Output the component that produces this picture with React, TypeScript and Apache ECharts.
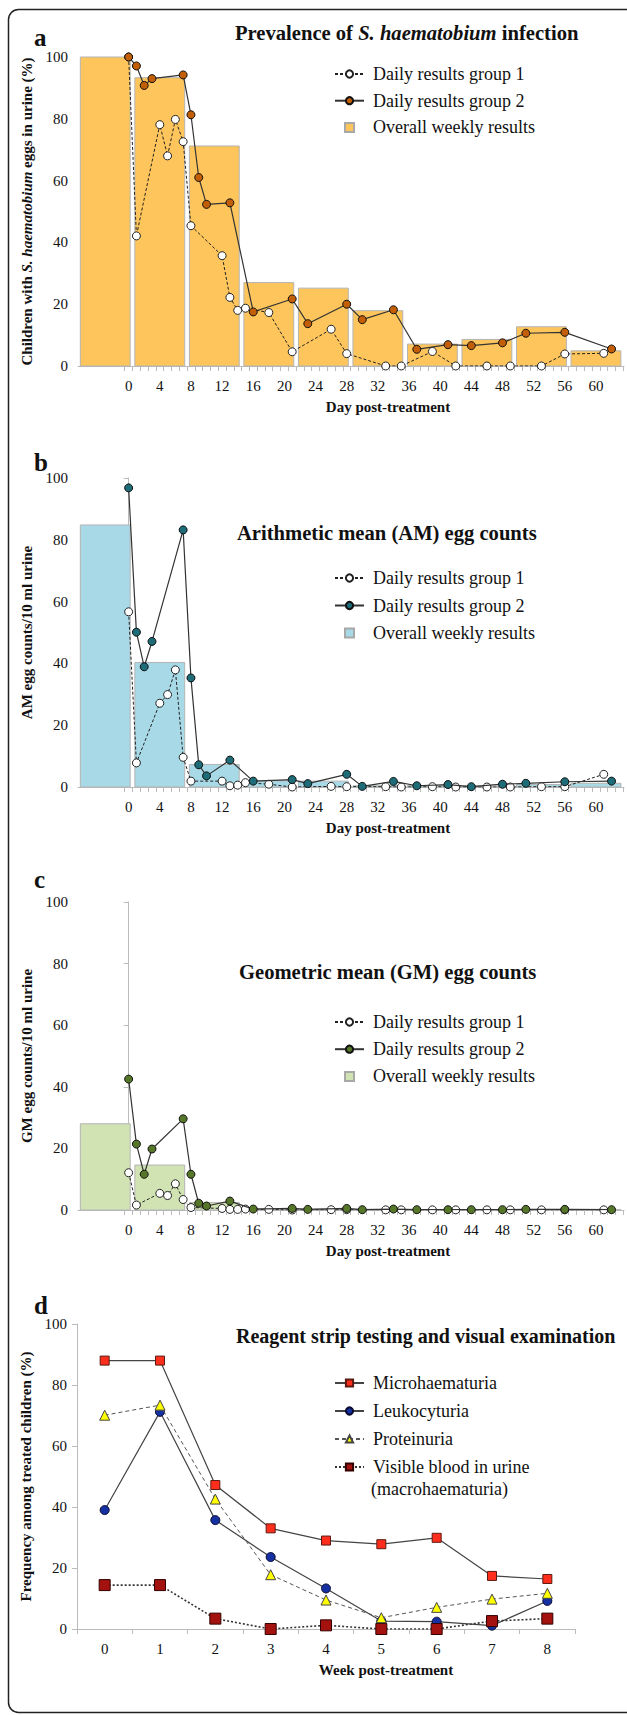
import React, { useEffect, useRef } from 'react';
import * as echarts from 'echarts';

// ---------- data ----------
const WEEK_CENTERS = [-3, 4, 11, 18, 25, 32, 39, 46, 53, 60];
const G1_DAYS = [0, 1, 4, 5, 6, 7, 8, 12, 13, 14, 15, 18, 21, 26, 28, 33, 35, 39, 42, 46, 49, 53, 56, 61];
const G2_DAYS = [0, 1, 2, 3, 7, 8, 9, 10, 13, 16, 21, 23, 28, 30, 34, 37, 41, 44, 48, 51, 56, 62];
const X_LABELS = [0, 4, 8, 12, 16, 20, 24, 28, 32, 36, 40, 44, 48, 52, 56, 60];

const PREV_WEEKLY = [100, 93.3, 71.2, 27.0, 25.2, 17.9, 7.1, 8.6, 12.7, 4.9];
const PREV_G1 = [100, 42.1, 78.1, 68.0, 79.8, 72.6, 45.4, 35.7, 22.2, 18.0, 18.7, 17.3, 4.6, 11.9, 4.0, 0, 0, 4.7, 0, 0, 0, 0, 3.9, 4.1];
const PREV_G2 = [100, 97.1, 90.8, 93.0, 94.2, 81.3, 61.0, 52.3, 52.8, 17.5, 21.7, 13.7, 20.0, 15.0, 18.2, 5.4, 6.9, 6.6, 7.5, 10.6, 10.9, 5.5];

const AM_WEEKLY = [84.8, 40.3, 7.3, 2.0, 1.9, 0.4, 0.5, 0.3, 0.8, 1.2];
const AM_G1 = [56.7, 7.8, 27.1, 29.9, 37.9, 9.6, 1.9, 1.9, 0.4, 0.6, 1.4, 0.9, 0.0, 0.2, 0.1, 0.1, 0.0, 0.1, 0.0, 0.0, 0.0, 0.1, 0.1, 4.1];
const AM_G2 = [96.8, 50.1, 38.9, 47.1, 83.2, 35.3, 7.2, 3.6, 8.7, 1.9, 2.4, 1.1, 4.1, 0.2, 1.8, 0.4, 0.8, 0.1, 0.9, 1.2, 1.7, 1.9];

const GM_WEEKLY = [28.0, 14.6, 2.4, 0.4, 0.3, 0.15, 0.1, 0.1, 0.15, 0.1];
const GM_G1 = [12.1, 1.6, 5.4, 4.7, 8.5, 3.4, 0.8, 0.5, 0.2, 0.2, 0.3, 0.2, 0.0, 0.1, 0.1, 0.05, 0.05, 0.05, 0.05, 0.05, 0.05, 0.05, 0.05, 0.05];
const GM_G2 = [42.5, 21.4, 11.6, 19.8, 29.6, 11.6, 2.2, 1.3, 2.9, 0.3, 0.5, 0.2, 0.5, 0.1, 0.3, 0.1, 0.1, 0.1, 0.1, 0.2, 0.2, 0.1];

const WEEKS = ['0', '1', '2', '3', '4', '5', '6', '7', '8'];
const MICRO = [88.0, 88.0, 47.2, 33.0, 29.0, 27.8, 29.9, 17.4, 16.4];
const LEUKO = [39.0, 71.2, 35.7, 23.6, 13.3, 2.6, 2.4, 1.1, 9.2];
const PROT = [70.1, 73.4, 42.6, 17.8, 9.5, 3.7, 7.1, 9.8, 11.7];
const MACRO = [14.4, 14.4, 3.4, 0, 1.2, 0, 0, 2.6, 3.4];

const LABELS: Record<string, string> = {
  a1: 'Daily results group 1', a2: 'Daily results group 2', a3: 'Overall weekly results',
  b1: 'Daily results group 1', b2: 'Daily results group 2', b3: 'Overall weekly results',
  c1: 'Daily results group 1', c2: 'Daily results group 2', c3: 'Overall weekly results',
  d1: 'Microhaematuria', d2: 'Leukocyturia', d3: 'Proteinuria', d4: 'Visible blood in urine',
};

// ---------- styling ----------
const FONT = 'Liberation Serif';
const TXT = '#111';
const AX = '#bbbbbb';
const BAR_HALF = 3.2;
const TITLE_SIZE = 20.6;
const DAY_TICKS = Array.from({ length: 65 }, (_, i) => i - 0.5);

const zip = (xs: number[], ys: number[]) => xs.map((x, i) => [x, ys[i]]);

function dayAxis(gi: number) {
  return {
    type: 'value', gridIndex: gi, min: -6.5, max: 63.6,
    name: 'Day post-treatment', nameLocation: 'middle', nameGap: 33,
    nameTextStyle: { fontFamily: FONT, fontWeight: 'bold', fontSize: 15, color: TXT, padding: [0, 0, 0, 74] },
    axisLine: { show: true, lineStyle: { color: AX, width: 1 } },
    axisTick: { show: true, length: 5, lineStyle: { color: AX }, customValues: DAY_TICKS },
    axisLabel: { fontFamily: FONT, fontSize: 15, color: TXT, margin: 12, customValues: X_LABELS },
    splitLine: { show: false },
  };
}

function pctAxis(gi: number, name: string, rich?: any, gap = 38) {
  return {
    type: 'value', gridIndex: gi, min: 0, max: 100, interval: 20,
    name, nameLocation: 'middle', nameGap: gap,
    nameTextStyle: { fontFamily: FONT, fontWeight: 'bold', fontSize: 15, color: TXT, rich },
    axisLine: { show: true, lineStyle: { color: AX, width: 1 } },
    axisTick: { show: true, length: 5, lineStyle: { color: AX } },
    axisLabel: { fontFamily: FONT, fontSize: 15, color: TXT, margin: 10 },
    splitLine: { show: false },
  };
}

function barSeries(name: string, gi: number, values: number[], color: string) {
  return {
    type: 'custom', name, xAxisIndex: gi, yAxisIndex: gi, z: 1,
    data: zip(WEEK_CENTERS, values),
    encode: { x: 0, y: 1 },
    itemStyle: { color, borderColor: '#a8a8a8', borderWidth: 1 },
    renderItem: (_p: any, api: any) => {
      const x = api.value(0);
      const y = api.value(1);
      const tl = api.coord([x - BAR_HALF, y]);
      const br = api.coord([x + BAR_HALF, 0]);
      return {
        type: 'rect',
        shape: { x: tl[0], y: tl[1], width: br[0] - tl[0], height: br[1] - tl[1] },
        style: { fill: color, stroke: '#b4b4b4', lineWidth: 1 },
      };
    },
  };
}

function g1Series(name: string, gi: number, values: number[]) {
  return {
    type: 'line', name, xAxisIndex: gi, yAxisIndex: gi, z: 3,
    data: zip(G1_DAYS, values),
    symbol: 'circle', symbolSize: 8,
    lineStyle: { color: '#222', width: 1, type: [3, 2] },
    itemStyle: { color: '#ffffff', borderColor: '#222', borderWidth: 1 },
  };
}

function g2Series(name: string, gi: number, values: number[], color: string) {
  return {
    type: 'line', name, xAxisIndex: gi, yAxisIndex: gi, z: 4,
    data: zip(G2_DAYS, values),
    symbol: 'circle', symbolSize: 8,
    lineStyle: { color: '#333', width: 1.2, type: 'solid' },
    itemStyle: { color, borderColor: '#111', borderWidth: 1 },
  };
}

function legend(names: any[], top: number, gap: number) {
  return {
    orient: 'vertical', left: 334, top, itemWidth: 29, itemHeight: 9, itemGap: gap,
    selectedMode: false, padding: 0,
    data: names,
    formatter: (n: string) => LABELS[n],
    textStyle: { fontFamily: FONT, fontSize: 18, color: TXT, lineHeight: 20, padding: [0, 0, 0, 4] },
  };
}

const SQUARE = 'path://M0,0H10V10H0Z';

function titleText(text: string, left: number, top: number, size = TITLE_SIZE, rich?: any) {
  return {
    text, left, top, padding: 0,
    textStyle: { fontFamily: FONT, fontWeight: 'bold', fontSize: size, color: TXT, rich },
  };
}

function buildOption() {
  const richTitle = {
    b: { fontFamily: FONT, fontWeight: 'bold', fontSize: TITLE_SIZE, color: TXT },
    i: { fontFamily: FONT, fontWeight: 'bold', fontStyle: 'italic', fontSize: TITLE_SIZE, color: TXT },
  };
  const richName = {
    n: { fontFamily: FONT, fontWeight: 'bold', fontSize: 15, color: TXT },
    i: { fontFamily: FONT, fontWeight: 'bold', fontStyle: 'italic', fontSize: 15, color: TXT },
  };
  return {
    animation: false,
    title: [
      titleText('a', 34, 25, 25),
      titleText('b', 34, 450, 25),
      titleText('c', 34, 867, 25),
      titleText('d', 34, 1293, 25),
      titleText('{b|Prevalence of }{i|S. haematobium}{b| infection}', 235, 22, TITLE_SIZE, richTitle),
      titleText('Arithmetic mean (AM) egg counts', 237, 522),
      titleText('Geometric mean (GM) egg counts', 239, 961),
      titleText('Reagent strip testing and visual examination', 236, 1326, 20),
    ],
    grid: [
      { left: 78, top: 57, width: 546, height: 309, outerBoundsMode: 'none' },
      { left: 78, top: 478, width: 546, height: 309, outerBoundsMode: 'none' },
      { left: 78, top: 902, width: 546, height: 308, outerBoundsMode: 'none' },
      { left: 77, top: 1324, width: 498, height: 305, outerBoundsMode: 'none' },
    ],
    xAxis: [
      dayAxis(0), dayAxis(1), dayAxis(2),
      {
        type: 'category', gridIndex: 3, data: WEEKS, boundaryGap: true,
        name: 'Week post-treatment', nameLocation: 'middle', nameGap: 33,
        nameTextStyle: { fontFamily: FONT, fontWeight: 'bold', fontSize: 15, color: TXT, padding: [0, 0, 0, 120] },
        axisLine: { show: true, lineStyle: { color: AX, width: 1 } },
        axisTick: { show: true, length: 5, lineStyle: { color: AX } },
        axisLabel: { fontFamily: FONT, fontSize: 15, color: TXT, margin: 12 },
        splitLine: { show: false },
      },
    ],
    yAxis: [
      pctAxis(0, '{n|Children with }{i|S. haematobium}{n| eggs in urine (%)}', richName),
      pctAxis(1, 'AM egg counts/10 ml urine'),
      pctAxis(2, 'GM egg counts/10 ml urine'),
      pctAxis(3, 'Frequency among treated children (%)', undefined, 35),
    ],
    legend: [
      legend(['a1', 'a2', { name: 'a3', icon: SQUARE }], 64, 6.7),
      legend(['b1', 'b2', { name: 'b3', icon: SQUARE }], 568, 7.5),
      legend(['c1', 'c2', { name: 'c3', icon: SQUARE }], 1012, 7.2),
      legend(['d1', 'd2', 'd3', 'd4'], 1373, 8),
    ],
    series: [
      barSeries('a3', 0, PREV_WEEKLY, '#FDC55B'),
      g1Series('a1', 0, PREV_G1),
      g2Series('a2', 0, PREV_G2, '#C25E05'),

      barSeries('b3', 1, AM_WEEKLY, '#A8D9E7'),
      g1Series('b1', 1, AM_G1),
      g2Series('b2', 1, AM_G2, '#1D6C78'),

      barSeries('c3', 2, GM_WEEKLY, '#D1E3B3'),
      g1Series('c1', 2, GM_G1),
      g2Series('c2', 2, GM_G2, '#56772A'),

      {
        type: 'line', name: 'd1', xAxisIndex: 3, yAxisIndex: 3, data: MICRO, z: 3,
        symbol: 'rect', symbolSize: 9,
        lineStyle: { color: '#444', width: 1.2, type: 'solid' },
        itemStyle: { color: '#FF2E1C', borderColor: '#5a1a10', borderWidth: 1 },
      },
      {
        type: 'line', name: 'd2', xAxisIndex: 3, yAxisIndex: 3, data: LEUKO, z: 3,
        symbol: 'circle', symbolSize: 9,
        lineStyle: { color: '#444', width: 1.2, type: 'solid' },
        itemStyle: { color: '#1530A0', borderColor: '#0a0a30', borderWidth: 1 },
      },
      {
        type: 'line', name: 'd3', xAxisIndex: 3, yAxisIndex: 3, data: PROT, z: 4,
        symbol: 'triangle', symbolSize: 10,
        lineStyle: { color: '#555', width: 1, type: [4, 3] },
        itemStyle: { color: '#FFFF00', borderColor: '#444', borderWidth: 1 },
      },
      {
        type: 'line', name: 'd4', xAxisIndex: 3, yAxisIndex: 3, data: MACRO, z: 3,
        symbol: 'rect', symbolSize: 11,
        lineStyle: { color: '#333', width: 1.6, type: [2, 2] },
        itemStyle: { color: '#A3120E', borderColor: '#300', borderWidth: 1 },
      },
    ],
    graphic: [
      {
        type: 'rect', silent: true, z: 100,
        shape: { x: 8.5, y: 9.5, width: 640, height: 1703, r: 10 },
        style: { fill: 'none', stroke: '#222', lineWidth: 1.5 },
      },
      {
        type: 'text', x: 371, y: 1489,
        style: { text: '(macrohaematuria)', fontFamily: FONT, fontSize: 18, fill: TXT, verticalAlign: 'middle' },
      },
    ],
  };
}

export default function App() {
  const ref = useRef<HTMLDivElement>(null);
  useEffect(() => {
    document.body.style.margin = '0';
    if (!ref.current) return;
    const chart = echarts.init(ref.current, null, { renderer: 'svg' });
    chart.setOption(buildOption() as any);
    return () => chart.dispose();
  }, []);
  return <div ref={ref} style={{ width: 627, height: 1715, background: '#fff' }} />;
}
